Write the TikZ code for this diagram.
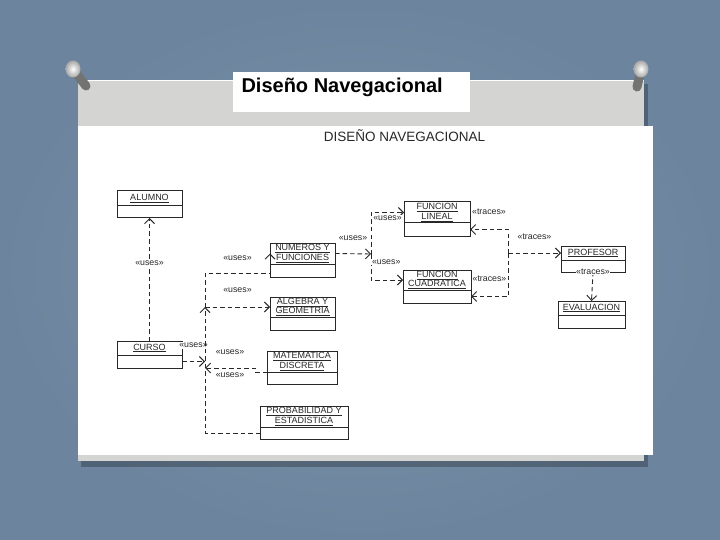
\documentclass[tikz,border=0pt]{standalone}
\usepackage{fontspec}
\setmainfont{Liberation Sans}
\usetikzlibrary{positioning,arrows.meta}
\definecolor{wallblue}{RGB}{124,147,170}
\definecolor{walldark}{RGB}{108,132,157}
\definecolor{board}{RGB}{212,212,210}
\definecolor{ink}{RGB}{40,40,40}
\tikzset{
  clsname/.style={draw=ink, line width=1pt, outer sep=0pt, inner sep=0.5pt, align=center,
    text=ink, font=\fontsize{9}{9.4}\selectfont, anchor=north west},
  clsbody/.style={draw=ink, line width=1pt, outer sep=0pt, inner sep=0pt},
  dep/.style={draw=ink, line width=0.9pt, dash pattern=on 4.5pt off 3pt,
    -{Straight Barb[length=5pt,width=10pt]}},
  stereo/.style={fill=white, inner sep=0.6pt, text=ink, font=\fontsize{8.8}{9}\selectfont},
}
\begin{document}
\begin{tikzpicture}[x=1pt,y=-1pt]
	% wall, board and sheet
	\shade[inner color=wallblue, outer color=walldark] (0,0) rectangle (720,540);
	\fill[black, opacity=0.25] (81,84) rectangle (648,467);
	\fill[board] (78,80) rectangle (644,461);
	\draw[white, line width=1.2pt] (78,80.6) -- (644,80.6);
	\fill[white] (78,126) rectangle (653,455);
	\fill[white] (233,72) rectangle (470,112);
	% pins
	\foreach \px/\py/\qx/\qy in {73/69/86/86, 641/69/637/87}{
		\draw[black!55, line width=9pt, line cap=round] (\px,\py) -- (\qx,\qy);
		\shade[inner color=white, outer color=black!35] (\px,\py) ellipse (7.5 and 8.5);
	}
	\node[anchor=base west, font=\bfseries\fontsize{20}{24}\selectfont] (title) at (238,93) {Diseño Navegacional};
	\node[text=ink, font=\fontsize{13.5}{16}\selectfont] (subtitle) at (404.5,135.5) {DISEÑO NAVEGACIONAL};
	% classes
	\foreach \nm/\x/\y/\w/\a/\b/\t in {
		alumno/117/191/65/15/12/{\underline{ALUMNO}},
		curso/117/341/65/14/13/{\underline{CURSO}},
		numeros/270/243/65/21/13/{\underline{NUMEROS Y}\\\underline{FUNCIONES}},
		algebra/270/297/65/20/13/{\underline{ALGEBRA Y}\\\underline{GEOMETRIA}},
		matematica/267/351/70/21/12/{\underline{MATEMATICA}\\\underline{DISCRETA}},
		prob/260/406/88/21/12/{\underline{PROBABILIDAD Y}\\\underline{ESTADISTICA}},
		lineal/404/202/66/21/13/{\underline{FUNCION}\\\underline{LINEAL}},
		cuadratica/403/270/68/20/13/{\underline{FUNCION}\\\underline{CUADRATICA}},
		profesor/561/246/64/14/12/{\underline{PROFESOR}},
		evaluacion/558/301/67/14/13/{\underline{EVALUACION}}}{
		\node[clsname, minimum width=\w pt, minimum height=\a pt] (\nm) at (\x,\y) {\t};
		\node[clsbody, below=0pt of \nm, minimum width=\w pt, minimum height=\b pt] (\nm-b) {};
	}
	% junction points
	\coordinate (tk) at (205,273);
	\coordinate (tka) at (205,307);
	\coordinate (tkm) at (205,368);
	\coordinate (tf) at (371,254);
	\coordinate (tp) at (508,253);
	% uses
	\draw[dep] (curso.north) -- (alumno-b.south) node[stereo, pos=0.63] {«uses»};
	\draw[dep] (curso-b.east) -- (curso-b.east -| tk) node[stereo, midway, yshift=16pt] {«uses»};
	\draw[dep] (prob-b.west) -| (tka);
	\draw[dep] (tka) -- (algebra.west) node[stereo, midway, yshift=17pt] {«uses»};
	\draw[dep] (tka) -- (tk) -- (tk -| numeros.west) node[stereo, midway, yshift=15pt] {«uses»} -- (numeros.west);
	\draw[dep] (matematica.south west) -- ++(-12,0) |- (tkm)
		node[stereo, pos=0.75, yshift=16pt] {«uses»} node[stereo, pos=0.75, yshift=-7pt] {«uses»};
	\draw[dep] (numeros.east) -- (tf) node[stereo, midway, yshift=16pt] {«uses»};
	\draw[dep] (tf) |- (lineal.west) node[stereo, pos=0.75, yshift=-6pt] {«uses»};
	\draw[dep] (tf) |- (cuadratica.west) node[stereo, pos=0.15, anchor=west] {«uses»};
	% traces
	\draw[dep] (tp) -- (profesor.west) node[stereo, midway, yshift=16pt] {«traces»};
	\draw[dep] (tp) |- (lineal-b.east) node[stereo, pos=0.75, yshift=18pt] {«traces»};
	\draw[dep] (tp) |- (cuadratica-b.east) node[stereo, pos=0.75, yshift=18pt] {«traces»};
	\draw[dep] (profesor-b.south) -- (evaluacion.north) node[stereo, pos=0] {«traces»};
\end{tikzpicture}
\end{document}
